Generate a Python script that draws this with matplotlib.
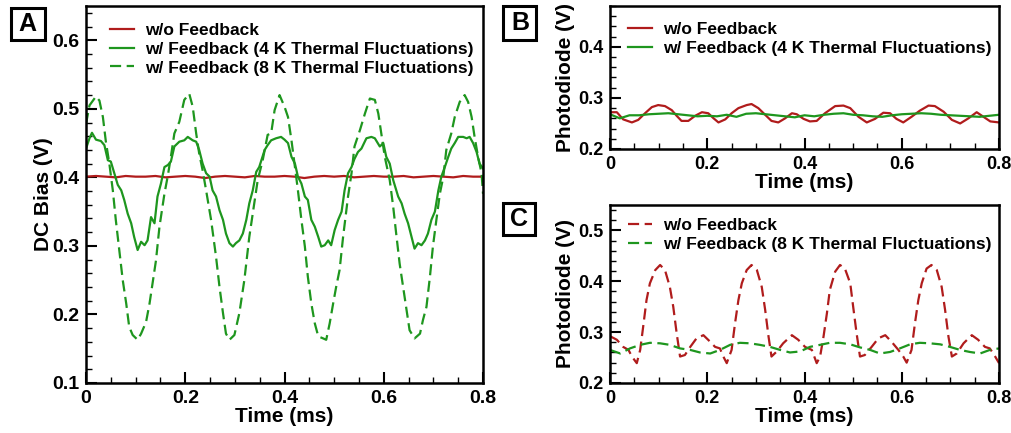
import numpy as np
import matplotlib
matplotlib.use("Agg")
import matplotlib.pyplot as plt
from matplotlib.patches import Rectangle
from matplotlib.ticker import MultipleLocator

plt.rcParams['font.family'] = ['Liberation Sans', 'DejaVu Sans']
plt.rcParams['font.weight'] = 'bold'

RED = '#b01c1c'
GREEN = '#1e961e'

# ---- panel A: DC bias ----
a_t_red = np.linspace(0, 0.8, 41)
a_v_red = [0.401, 0.402, 0.401, 0.400, 0.402, 0.401, 0.401, 0.402, 0.400, 0.401,
           0.402, 0.401, 0.399, 0.401, 0.402, 0.401, 0.400, 0.402, 0.401, 0.401,
           0.402, 0.401, 0.399, 0.401, 0.402, 0.401, 0.402, 0.400, 0.401, 0.402,
           0.401, 0.401, 0.402, 0.400, 0.401, 0.402, 0.401, 0.400, 0.402, 0.401, 0.401]

a_t_4k = [0.000, 0.007, 0.012, 0.020, 0.030, 0.037, 0.044, 0.050, 0.057, 0.064,
          0.071, 0.077, 0.084, 0.091, 0.097, 0.104, 0.111, 0.118, 0.124, 0.131,
          0.138, 0.144, 0.151, 0.158, 0.165, 0.171, 0.178, 0.188, 0.198, 0.205,
          0.215, 0.222, 0.228, 0.235, 0.242, 0.249, 0.255, 0.262, 0.269, 0.276,
          0.282, 0.289, 0.296, 0.302, 0.309, 0.316, 0.323, 0.329, 0.336, 0.343,
          0.349, 0.360, 0.366, 0.373, 0.383, 0.393, 0.400, 0.407, 0.414, 0.421,
          0.427, 0.434, 0.441, 0.447, 0.454, 0.461, 0.468, 0.474, 0.481, 0.488,
          0.494, 0.501, 0.508, 0.515, 0.521, 0.528, 0.535, 0.541, 0.548, 0.555,
          0.565, 0.575, 0.582, 0.592, 0.599, 0.605, 0.612, 0.619, 0.629, 0.636,
          0.642, 0.649, 0.656, 0.662, 0.669, 0.676, 0.683, 0.689, 0.696, 0.703,
          0.710, 0.716, 0.723, 0.730, 0.736, 0.743, 0.750, 0.760, 0.767, 0.773,
          0.780, 0.787, 0.793, 0.800]
a_v_4k = [0.442, 0.457, 0.465, 0.455, 0.453, 0.447, 0.425, 0.423, 0.406, 0.389,
          0.381, 0.367, 0.347, 0.333, 0.313, 0.294, 0.306, 0.301, 0.308, 0.342,
          0.333, 0.372, 0.391, 0.415, 0.418, 0.423, 0.445, 0.452, 0.454, 0.459,
          0.454, 0.452, 0.440, 0.420, 0.406, 0.401, 0.381, 0.372, 0.352, 0.338,
          0.318, 0.304, 0.299, 0.304, 0.308, 0.318, 0.338, 0.362, 0.381, 0.408,
          0.415, 0.440, 0.447, 0.454, 0.457, 0.459, 0.455, 0.450, 0.430, 0.420,
          0.401, 0.391, 0.372, 0.367, 0.338, 0.328, 0.313, 0.299, 0.301, 0.308,
          0.301, 0.323, 0.338, 0.350, 0.381, 0.406, 0.415, 0.427, 0.437, 0.442,
          0.457, 0.459, 0.457, 0.445, 0.450, 0.430, 0.420, 0.396, 0.372, 0.362,
          0.347, 0.333, 0.313, 0.296, 0.304, 0.301, 0.308, 0.318, 0.338, 0.350,
          0.381, 0.401, 0.415, 0.430, 0.442, 0.450, 0.459, 0.459, 0.457, 0.459,
          0.450, 0.437, 0.420, 0.413]

a_t_8k = [0.000, 0.007, 0.020, 0.027, 0.034, 0.040, 0.047, 0.054, 0.060, 0.067,
          0.074, 0.081, 0.087, 0.094, 0.104, 0.111, 0.121, 0.128, 0.134, 0.141,
          0.148, 0.158, 0.165, 0.171, 0.178, 0.188, 0.198, 0.208, 0.215, 0.222,
          0.228, 0.235, 0.242, 0.252, 0.262, 0.269, 0.276, 0.282, 0.289, 0.299,
          0.309, 0.319, 0.329, 0.339, 0.346, 0.356, 0.366, 0.373, 0.380, 0.390,
          0.400, 0.407, 0.414, 0.421, 0.427, 0.434, 0.441, 0.447, 0.454, 0.461,
          0.468, 0.478, 0.484, 0.491, 0.498, 0.504, 0.511, 0.518, 0.528, 0.535,
          0.541, 0.552, 0.562, 0.572, 0.582, 0.589, 0.595, 0.602, 0.612, 0.619,
          0.625, 0.632, 0.639, 0.646, 0.652, 0.662, 0.673, 0.679, 0.686, 0.693,
          0.699, 0.706, 0.713, 0.720, 0.726, 0.736, 0.743, 0.753, 0.763, 0.770,
          0.777, 0.783, 0.790, 0.797, 0.800]
a_v_8k = [0.478, 0.505, 0.518, 0.512, 0.488, 0.452, 0.420, 0.381, 0.338, 0.294,
          0.250, 0.216, 0.182, 0.170, 0.163, 0.172, 0.189, 0.216, 0.245, 0.279,
          0.328, 0.376, 0.403, 0.430, 0.464, 0.481, 0.513, 0.522, 0.503, 0.464,
          0.435, 0.410, 0.381, 0.338, 0.284, 0.240, 0.202, 0.172, 0.163, 0.170,
          0.202, 0.250, 0.313, 0.362, 0.396, 0.425, 0.462, 0.464, 0.498, 0.520,
          0.503, 0.488, 0.454, 0.415, 0.381, 0.338, 0.299, 0.255, 0.216, 0.187,
          0.168, 0.165, 0.163, 0.187, 0.216, 0.240, 0.265, 0.313, 0.372, 0.406,
          0.445, 0.469, 0.493, 0.515, 0.513, 0.493, 0.464, 0.430, 0.396, 0.357,
          0.318, 0.274, 0.240, 0.206, 0.177, 0.165, 0.172, 0.192, 0.211, 0.255,
          0.299, 0.338, 0.376, 0.401, 0.440, 0.464, 0.488, 0.510, 0.520, 0.510,
          0.488, 0.459, 0.430, 0.406, 0.376]

# ---- panel B: photodiode, 4 K ----
b_t_red = [0.000, 0.014, 0.027, 0.045, 0.058, 0.072, 0.086, 0.099, 0.113, 0.127,
           0.137, 0.147, 0.161, 0.175, 0.189, 0.202, 0.213, 0.223, 0.237, 0.250,
           0.264, 0.281, 0.291, 0.305, 0.319, 0.332, 0.346, 0.360, 0.374, 0.384,
           0.398, 0.411, 0.425, 0.442, 0.463, 0.480, 0.494, 0.511, 0.528, 0.545,
           0.562, 0.576, 0.589, 0.603, 0.620, 0.637, 0.655, 0.668, 0.686, 0.703,
           0.720, 0.737, 0.754, 0.768, 0.782, 0.800]
b_v_red = [0.272, 0.272, 0.258, 0.252, 0.257, 0.270, 0.282, 0.286, 0.284, 0.276,
           0.265, 0.255, 0.255, 0.265, 0.272, 0.270, 0.260, 0.252, 0.258, 0.270,
           0.280, 0.286, 0.288, 0.280, 0.267, 0.255, 0.252, 0.260, 0.270, 0.268,
           0.259, 0.254, 0.255, 0.270, 0.284, 0.285, 0.280, 0.263, 0.252, 0.259,
           0.271, 0.270, 0.259, 0.252, 0.263, 0.275, 0.285, 0.284, 0.273, 0.257,
           0.250, 0.260, 0.272, 0.263, 0.254, 0.252]
b_t_green = np.linspace(0, 0.8, 41)
b_v_green = [0.268, 0.260, 0.266, 0.266, 0.268, 0.269, 0.270, 0.268, 0.266, 0.264,
             0.265, 0.264, 0.267, 0.263, 0.269, 0.270, 0.268, 0.266, 0.264, 0.262,
             0.266, 0.264, 0.267, 0.269, 0.270, 0.267, 0.266, 0.264, 0.263, 0.266,
             0.268, 0.269, 0.270, 0.269, 0.267, 0.266, 0.265, 0.264, 0.263, 0.265, 0.267]

# ---- panel C: photodiode, 8 K ----
c_t_red = [0.000, 0.014, 0.027, 0.038, 0.045, 0.055, 0.062, 0.069, 0.075, 0.082,
           0.093, 0.103, 0.113, 0.123, 0.130, 0.137, 0.144, 0.154, 0.165, 0.178,
           0.192, 0.206, 0.216, 0.226, 0.233, 0.240, 0.250, 0.257, 0.264, 0.271,
           0.281, 0.291, 0.302, 0.312, 0.319, 0.326, 0.332, 0.343, 0.356, 0.374,
           0.387, 0.401, 0.415, 0.425, 0.432, 0.439, 0.446, 0.452, 0.463, 0.473,
           0.483, 0.494, 0.500, 0.507, 0.514, 0.524, 0.538, 0.552, 0.566, 0.579,
           0.593, 0.603, 0.610, 0.620, 0.627, 0.634, 0.641, 0.651, 0.661, 0.672,
           0.682, 0.689, 0.696, 0.703, 0.713, 0.727, 0.744, 0.757, 0.771, 0.781,
           0.792, 0.800]
c_v_red = [0.292, 0.285, 0.271, 0.265, 0.252, 0.239, 0.265, 0.317, 0.363, 0.396,
           0.422, 0.432, 0.422, 0.389, 0.350, 0.298, 0.252, 0.255, 0.271, 0.288,
           0.294, 0.281, 0.271, 0.268, 0.252, 0.239, 0.265, 0.317, 0.363, 0.396,
           0.422, 0.432, 0.422, 0.389, 0.344, 0.291, 0.252, 0.262, 0.278, 0.294,
           0.285, 0.271, 0.265, 0.239, 0.252, 0.291, 0.337, 0.383, 0.419, 0.432,
           0.425, 0.396, 0.350, 0.298, 0.252, 0.255, 0.271, 0.288, 0.294, 0.281,
           0.265, 0.252, 0.240, 0.265, 0.317, 0.363, 0.396, 0.425, 0.432, 0.422,
           0.389, 0.344, 0.291, 0.252, 0.258, 0.278, 0.294, 0.285, 0.271, 0.268,
           0.252, 0.239]
c_t_green = [0.000, 0.021, 0.041, 0.062, 0.082, 0.103, 0.123, 0.144, 0.165, 0.185,
             0.206, 0.226, 0.247, 0.267, 0.288, 0.308, 0.329, 0.350, 0.370, 0.391,
             0.411, 0.432, 0.452, 0.473, 0.494, 0.514, 0.535, 0.555, 0.576, 0.596,
             0.617, 0.637, 0.658, 0.679, 0.699, 0.720, 0.740, 0.761, 0.781, 0.800]
c_v_green = [0.265, 0.258, 0.268, 0.275, 0.279, 0.278, 0.275, 0.268, 0.265, 0.260,
             0.258, 0.265, 0.275, 0.279, 0.278, 0.275, 0.271, 0.265, 0.260, 0.262,
             0.271, 0.275, 0.279, 0.279, 0.276, 0.270, 0.265, 0.258, 0.261, 0.268,
             0.276, 0.279, 0.278, 0.276, 0.271, 0.265, 0.261, 0.258, 0.265, 0.268]

DASH = (0, (5, 2.5))
W, H = 1012, 433


def style_axis(ax, ylim, tick_fs):
    ax.set_xlim(0, 0.8)
    ax.set_ylim(*ylim)
    ax.xaxis.set_major_locator(MultipleLocator(0.2))
    ax.xaxis.set_minor_locator(MultipleLocator(0.05))
    ax.yaxis.set_major_locator(MultipleLocator(0.1))
    ax.yaxis.set_minor_locator(MultipleLocator(0.02))
    ax.xaxis.set_major_formatter(lambda v, p: '0' if v == 0 else f'{v:.1f}')
    ax.tick_params(which='major', direction='in', length=8, width=1.5,
                   labelsize=tick_fs, pad=5)
    ax.tick_params(which='minor', direction='in', length=4, width=1)
    for lab in ax.get_xticklabels() + ax.get_yticklabels():
        lab.set_fontweight('bold')
    for s in ax.spines.values():
        s.set_linewidth(1.8)
    ax.set_xlabel('Time (ms)', fontsize=15, fontweight='bold', labelpad=0)


def add_legend(ax, anchor):
    ax.legend(loc='upper left', frameon=False, handlelength=1.4,
              handletextpad=0.6, labelspacing=0.2, borderaxespad=0,
              bbox_to_anchor=anchor, prop={'weight': 'bold', 'size': 12.5})


def panel_tag(fig, cx, cy, w, h, letter):
    # cx, cy, w, h in pixels from the top-left corner
    fig.patches.append(Rectangle(((cx - w / 2) / W, 1 - (cy + h / 2) / H), w / W, h / H,
                                 transform=fig.transFigure, fill=False,
                                 ec='black', lw=2.2, figure=fig))
    fig.text(cx / W, 1 - cy / H, letter, fontsize=18, fontweight='bold',
             ha='center', va='center')


fig = plt.figure(figsize=(10.12, 4.33), dpi=100)
ax_a = fig.add_axes([0.085, 0.1155, 0.3923, 0.8707])
ax_b = fig.add_axes([0.6028, 0.6559, 0.3844, 0.3303])
ax_c = fig.add_axes([0.6028, 0.1155, 0.3844, 0.4111])

ax_a.plot(a_t_red, a_v_red, color=RED, lw=1.6, label='w/o Feedback')
ax_a.plot(a_t_4k, a_v_4k, color=GREEN, lw=1.6, label='w/ Feedback (4 K Thermal Fluctuations)')
ax_a.plot(a_t_8k, a_v_8k, color=GREEN, lw=1.6, ls=DASH, label='w/ Feedback (8 K Thermal Fluctuations)')
style_axis(ax_a, (0.1, 0.65), 14)
ax_a.set_ylabel('DC Bias (V)', fontsize=15, fontweight='bold', labelpad=-1)
add_legend(ax_a, (0.043, 0.973))

ax_b.plot(b_t_red, b_v_red, color=RED, lw=1.6, label='w/o Feedback')
ax_b.plot(b_t_green, b_v_green, color=GREEN, lw=1.6, label='w/ Feedback (4 K Thermal Fluctuations)')
style_axis(ax_b, (0.2, 0.48), 13)
ax_b.set_ylabel('Photodiode (V)', fontsize=15, fontweight='bold', labelpad=2)
add_legend(ax_b, (0.028, 0.937))

ax_c.plot(c_t_red, c_v_red, color=RED, lw=1.6, ls=DASH, label='w/o Feedback')
ax_c.plot(c_t_green, c_v_green, color=GREEN, lw=1.6, ls=DASH, label='w/ Feedback (8 K Thermal Fluctuations)')
style_axis(ax_c, (0.2, 0.55), 13)
ax_c.set_ylabel('Photodiode (V)', fontsize=15, fontweight='bold', labelpad=2)
add_legend(ax_c, (0.028, 0.966))

panel_tag(fig, 27.5, 24, 34, 32, 'A')
panel_tag(fig, 520, 22.5, 33, 34, 'B')
panel_tag(fig, 519, 219, 32, 32, 'C')

fig.savefig('out.png', dpi=100)
